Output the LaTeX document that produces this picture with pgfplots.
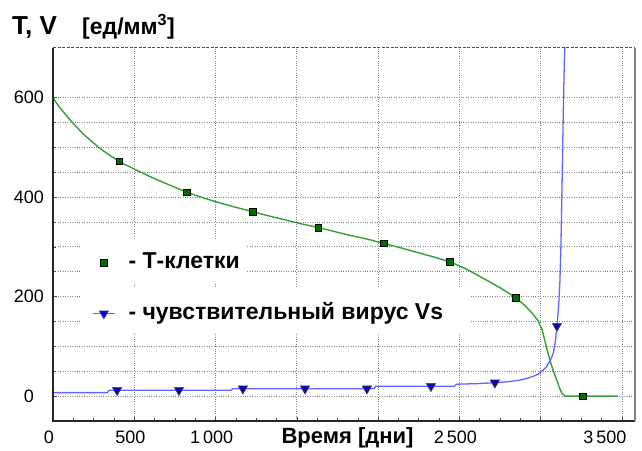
\documentclass[border=0pt]{standalone}
\usepackage{fontspec}
\setmainfont{Liberation Sans}
\usepackage{pgfplots}
\pgfplotsset{compat=1.18}
\definecolor{tline}{RGB}{50,160,50}
\definecolor{tmark}{RGB}{0,110,0}
\definecolor{vline}{RGB}{100,100,255}
\definecolor{vmark}{RGB}{10,10,170}
\definecolor{gridc}{RGB}{130,130,130}
\pgfplotsset{
  sqleg/.style={legend image code/.code={\draw[##1] plot coordinates {(11pt,0pt)};}},
  trleg/.style={legend image code/.code={\draw[##1, mark repeat=2, mark phase=2] plot coordinates {(0pt,0pt) (11pt,0pt) (22pt,0pt)};}},
}
\begin{document}
\begin{tikzpicture}
\begin{axis}[
 name=ax,
 scale only axis, width=582pt, height=373pt,
 xmin=0, xmax=3580, ymin=-50, ymax=700,
 axis line style={draw=none},
 xtick={0,500,...,3500},
 xticklabels={0,500,1\,000,{},{},2\,500,{},3\,500\hspace*{26pt}},
 ytick={0,200,400,600},
 minor x tick num=3, minor y tick num=3,
 xmajorgrids, ymajorgrids, yminorgrids,
 major grid style={gridc, dotted, line width=0.9pt},
 minor grid style={gridc, dotted, line width=0.9pt},
 tick align=inside, tick pos=left,
 major tick length=4pt, minor tick length=3pt,
 tick style={black!70, line width=0.6pt},
 ticklabel style={font=\fontsize{18}{20}\selectfont},
 xticklabel style={xshift=-4pt, yshift=-6pt},
 yticklabel style={anchor=center, xshift=-24pt},
 /pgf/number format/assume math mode=true,
 legend cell align=left,
 legend style={at={(axis cs:240,290)}, anchor=north west, draw=none, fill=none,
   inner sep=0pt, row sep=30pt, column sep=7pt, font=\bfseries\fontsize{23}{25}\selectfont,
   nodes={inner ysep=0pt, inner xsep=6pt, text height=16pt, text depth=5pt}},
]
\fill[white] (axis cs:178,229) rectangle (axis cs:1193,312);
\fill[white] (axis cs:178,127) rectangle (axis cs:2565,215);

\addplot[tline, line width=1.4pt, forget plot] coordinates {
(0,600) (20,590) (40,581) (60,573) (90,561) (123,549) (160,536) (200,523) (250,509)
(289,498) (350,484) (412,471)
(515,454) (620,438) (720,424) (822,410) (920,399) (1020,389) (1120,380) (1228,371)
(1320,363) (1420,355) (1520,347) (1632,339) (1730,331) (1830,323) (1930,316) (2036,307)
(2140,298) (2240,289) (2340,280) (2442,270) (2540,256) (2646,237) (2750,218) (2847,198)
(2900,183) (2950,166) (2985,151) (3010,132) (3034,100) (3057,72) (3078,50) (3098,33)
(3115,17) (3130,6) (3150,0) (3260,0) (3475,0)};

\addplot[vline, line width=1.3pt, forget plot] coordinates {
(0,7) (335,7) (345,12) (1095,12) (1105,15) (1975,15) (1985,20) (2470,20) (2480,24)
(2600,25) (2718,27) (2800,29) (2870,32) (2930,37) (2985,44) (3030,57) (3057,70)
(3077,86) (3090,110) (3100,141) (3110,180) (3118,230) (3124,298) (3130,400) (3135,500)
(3140,590) (3145,670) (3150,720)};

\addplot[only marks, mark=square*, mark size=3.3pt, mark options={fill=tmark, draw=black, line width=0.6pt}, forget plot] coordinates {
(407,472) (822,410) (1228,371) (1632,339) (2036,307) (2442,270) (2847,198) (3260,0)};

\addplot[only marks, mark=triangle*, mark size=5.5pt, mark options={rotate=180, fill=vmark, draw=black!70, line width=0.5pt}, forget plot] coordinates {
(394,12) (775,12) (1168,15) (1550,15) (1931,15) (2325,20) (2718,27) (3100,141)};

\addlegendimage{only marks, mark=square*, mark size=3.3pt, mark options={fill=tmark, draw=black, line width=0.6pt}, sqleg}
\addlegendentry{- Т-клетки}
\addlegendimage{vline, line width=1.3pt, mark=triangle*, mark size=5.5pt, mark options={rotate=180, fill=blue, draw=black!60, line width=0.5pt}, trleg}
\addlegendentry{- чувствительный вирус Vs}
\end{axis}
\draw[black!85, line width=2.2pt] (ax.north west) -- (ax.south west) -- (ax.south east);
\draw[gray, line width=1.2pt] (ax.south east) -- (ax.north east);
\draw[black!70, line width=1pt, dash pattern=on 3pt off 1.5pt] (ax.north west) -- (ax.north east);
\node[anchor=base west, inner sep=0pt, font=\bfseries\fontsize{26}{30}\selectfont] at ([xshift=-41pt, yshift=13pt]ax.north west) {T, V};
\node[anchor=base west, inner sep=0pt, font=\bfseries\fontsize{23}{26}\selectfont] at ([xshift=29pt, yshift=13pt]ax.north west) {[ед/мм\textsuperscript{3}]};
\node[anchor=base, inner sep=0pt, font=\bfseries\fontsize{22}{24}\selectfont] at ([xshift=294.5pt, yshift=-23pt]ax.south west) {Время [дни]};
\pgfresetboundingbox
\path ([shift={(-53pt,-30pt)}]ax.south west) rectangle ([shift={(7pt,48pt)}]ax.north east);
\end{tikzpicture}
\end{document}
